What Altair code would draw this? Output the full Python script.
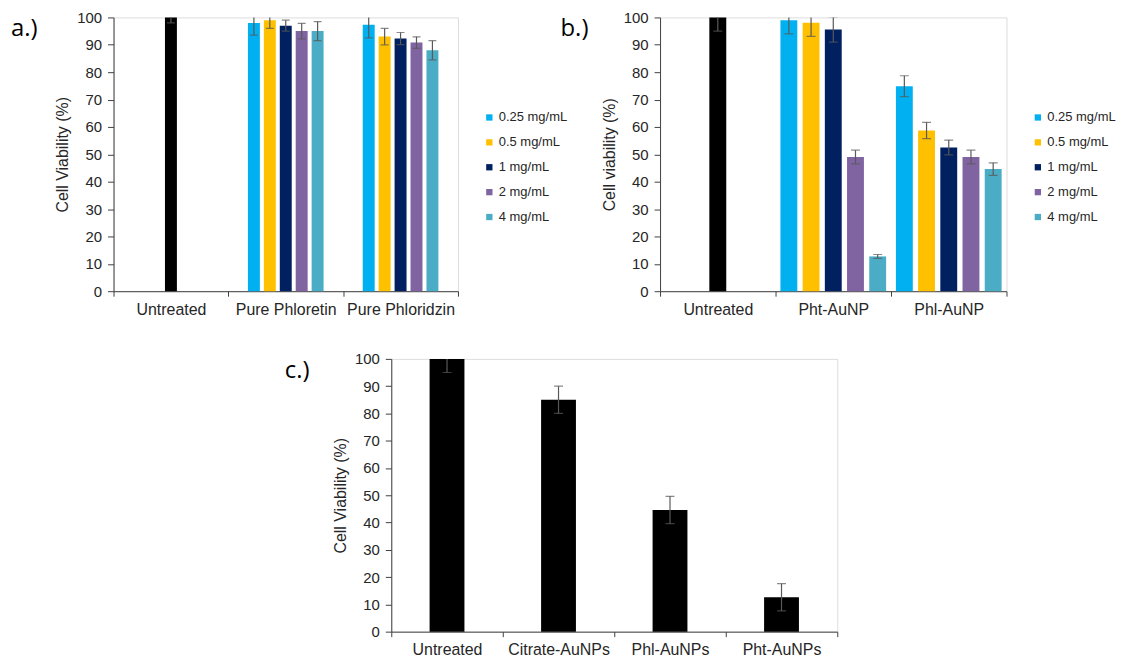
import altair as alt
import pandas as pd

# ---------------- data ----------------
conc = ["0.25 mg/mL", "0.5 mg/mL", "1 mg/mL", "2 mg/mL", "4 mg/mL"]
conc_colors = ["#00B0F0", "#FFC000", "#002060", "#8064A2", "#4BACC6"]
y_ticks = [0, 10, 20, 30, 40, 50, 60, 70, 80, 90, 100]

# panel a
a_categories = ["Untreated", "Pure Phloretin", "Pure Phloridzin"]
a_untreated = 100.0
a_untreated_err = 2.0
a_phloretin = [98.0, 99.0, 97.0, 95.0, 95.0]
a_phloretin_err = [4.5, 3.0, 2.0, 2.8, 3.5]
a_phloridzin = [97.3, 93.0, 92.3, 90.8, 88.0]
a_phloridzin_err = [4.8, 3.0, 2.2, 2.1, 3.5]

# panel b
b_categories = ["Untreated", "Pht-AuNP", "Phl-AuNP"]
b_untreated = 100.0
b_untreated_err = 5.0
b_pht = [99.0, 98.1, 95.6, 49.0, 12.7]
b_pht_err = [5.0, 5.0, 4.6, 2.5, 0.7]
b_phl = [74.9, 58.7, 52.5, 49.0, 44.6]
b_phl_err = [3.8, 3.0, 2.7, 2.5, 2.3]

# panel c
c_categories = ["Untreated", "Citrate-AuNPs", "Phl-AuNPs", "Pht-AuNPs"]
c_values = [100.0, 85.0, 44.6, 12.6]
c_err = [5.0, 5.0, 5.0, 5.0]

# ---------------- styling ----------------
FONT = "Liberation Sans"
LABEL_FONT = "Open Sans"
TXT = "#262626"
LINE = "#404040"
ERR = "#595959"


def y_enc(field, title, label_size):
    return alt.Y(
        field,
        scale=alt.Scale(domain=[0, 100], nice=False, zero=True),
        axis=alt.Axis(values=y_ticks, grid=False, tickSize=6, tickColor=LINE,
                      domainColor=LINE, labelFont=FONT, labelFontSize=label_size,
                      labelColor=TXT, labelPadding=6, titleFont=FONT,
                      titleFontSize=16, titleFontWeight="normal", titleColor=TXT,
                      titlePadding=6),
        title=title,
    )


def x_enc(categories, label_size):
    return alt.X(
        "cat:N",
        scale=alt.Scale(domain=categories, paddingInner=0, paddingOuter=0),
        axis=alt.Axis(labelAngle=0, tickBand="extent", tickSize=5, tickColor=LINE,
                      domainColor=LINE, labelFont=FONT, labelFontSize=label_size,
                      labelColor=TXT, labelPadding=5, labelLimit=300),
        title=None,
    )


def panel_title(text, dx):
    return alt.TitleParams(text, anchor="start", frame="group", orient="top",
                           dx=dx, dy=31, offset=0, font=LABEL_FONT, fontSize=24,
                           fontWeight="normal", color="#000000")


def grouped_panel(label, categories, untreated, untreated_err, series, series_err,
                  width, height, ubar, offset_scale, cap, ytitle, x_label_size,
                  legend_x, legend_y, title_dx):
    udf = pd.DataFrame({"cat": [categories[0]], "v": [untreated],
                        "lo": [untreated - untreated_err], "hi": [untreated + untreated_err]})
    rows = []
    for cat, vals, errs in zip(categories[1:], series, series_err):
        for cc, v, e in zip(conc, vals, errs):
            rows.append({"cat": cat, "conc": cc, "v": v, "lo": v - e, "hi": v + e})
    gdf = pd.DataFrame(rows)

    X = x_enc(categories, x_label_size)
    XO = alt.XOffset("conc:N", scale=offset_scale)
    color = alt.Color("conc:N", scale=alt.Scale(domain=conc, range=conc_colors),
                      legend=alt.Legend(orient="none", legendX=legend_x, legendY=legend_y,
                                        title=None, symbolType="square", symbolSize=40,
                                        symbolStrokeWidth=0, labelFont=FONT,
                                        labelFontSize=13, labelColor=TXT,
                                        rowPadding=11, padding=0, labelOffset=3))

    ub = alt.Chart(udf)
    u_bar = ub.mark_bar(color="#000000", size=ubar).encode(x=X, y=y_enc("v:Q", ytitle, 15))
    u_rule = ub.mark_rule(color=ERR, strokeWidth=1.2, clip=True).encode(
        x=X, y=y_enc("lo:Q", ytitle, 15), y2="hi:Q")
    u_lo = ub.mark_tick(color=ERR, size=cap, thickness=1.2, clip=True).encode(
        x=X, y=y_enc("lo:Q", ytitle, 15))
    u_hi = ub.mark_tick(color=ERR, size=cap, thickness=1.2, clip=True).encode(
        x=X, y=y_enc("hi:Q", ytitle, 15))

    gb = alt.Chart(gdf)
    g_bar = gb.mark_bar().encode(x=X, xOffset=XO, y=y_enc("v:Q", ytitle, 15), color=color)
    g_rule = gb.mark_rule(color=ERR, strokeWidth=1.2, clip=True).encode(
        x=X, xOffset=XO, y=y_enc("lo:Q", ytitle, 15), y2="hi:Q")
    g_lo = gb.mark_tick(color=ERR, size=cap, thickness=1.2, clip=True).encode(
        x=X, xOffset=XO, y=y_enc("lo:Q", ytitle, 15))
    g_hi = gb.mark_tick(color=ERR, size=cap, thickness=1.2, clip=True).encode(
        x=X, xOffset=XO, y=y_enc("hi:Q", ytitle, 15))

    return alt.layer(u_bar, g_bar, u_rule, g_rule, u_lo, g_lo, u_hi, g_hi).properties(
        width=width, height=height, title=panel_title(label, title_dx))


panel_a = grouped_panel("a.)", a_categories, a_untreated, a_untreated_err,
                        [a_phloretin, a_phloridzin], [a_phloretin_err, a_phloridzin_err],
                        346, 275, 12,
                        alt.Scale(domain=conc, paddingInner=0.25, paddingOuter=0,
                                  range=[19.67, 95.67]),
                        8, "Cell Viability (%)", 16, 371, 94, -103)
panel_b = grouped_panel("b.)", b_categories, b_untreated, b_untreated_err,
                        [b_pht, b_phl], [b_pht_err, b_phl_err],
                        348, 275, 17,
                        alt.Scale(domain=conc, paddingInner=0.24, paddingOuter=0.22),
                        9, "Cell viability (%)", 16, 373, 94, -100)

# panel c
cdf = pd.DataFrame({"cat": c_categories, "v": c_values,
                    "lo": [v - e for v, e in zip(c_values, c_err)],
                    "hi": [v + e for v, e in zip(c_values, c_err)]})
Xc = x_enc(c_categories, 16)
cb = alt.Chart(cdf)
c_bar = cb.mark_bar(color="#000000", size=35).encode(x=Xc, y=y_enc("v:Q", "Cell Viability (%)", 15))
c_rule = cb.mark_rule(color=ERR, strokeWidth=1.2, clip=True).encode(
    x=Xc, y=y_enc("lo:Q", "Cell Viability (%)", 15), y2="hi:Q")
c_lo = cb.mark_tick(color=ERR, size=9, thickness=1.2, clip=True).encode(
    x=Xc, y=y_enc("lo:Q", "Cell Viability (%)", 15))
c_hi = cb.mark_tick(color=ERR, size=9, thickness=1.2, clip=True).encode(
    x=Xc, y=y_enc("hi:Q", "Cell Viability (%)", 15))
panel_c = alt.layer(c_bar, c_rule, c_lo, c_hi).properties(
    width=448, height=274, title=panel_title("c.)", -107))

spacer = alt.Chart(pd.DataFrame({"s": []})).mark_point(opacity=0).properties(
    width=269, height=274, view=alt.ViewBackground(stroke="transparent"))

row1 = alt.hconcat(panel_a, panel_b, spacing=203, bounds="flush").resolve_scale(
    x="independent", y="independent", color="independent", xOffset="independent"
).resolve_legend(color="independent")
row2 = alt.hconcat(spacer, panel_c, spacing=10, bounds="flush").resolve_scale(
    x="independent", y="independent")

chart = alt.vconcat(row1, row2, spacing=33).resolve_scale(
    x="independent", y="independent", color="independent", xOffset="independent"
).resolve_legend(color="independent").properties(
    padding={"left": 2, "top": 0, "right": 0, "bottom": 0}
).configure_view(stroke=LINE, strokeWidth=1).configure(background="white")

chart.save("out.html", embed_options={"renderer": "svg", "actions": False})
